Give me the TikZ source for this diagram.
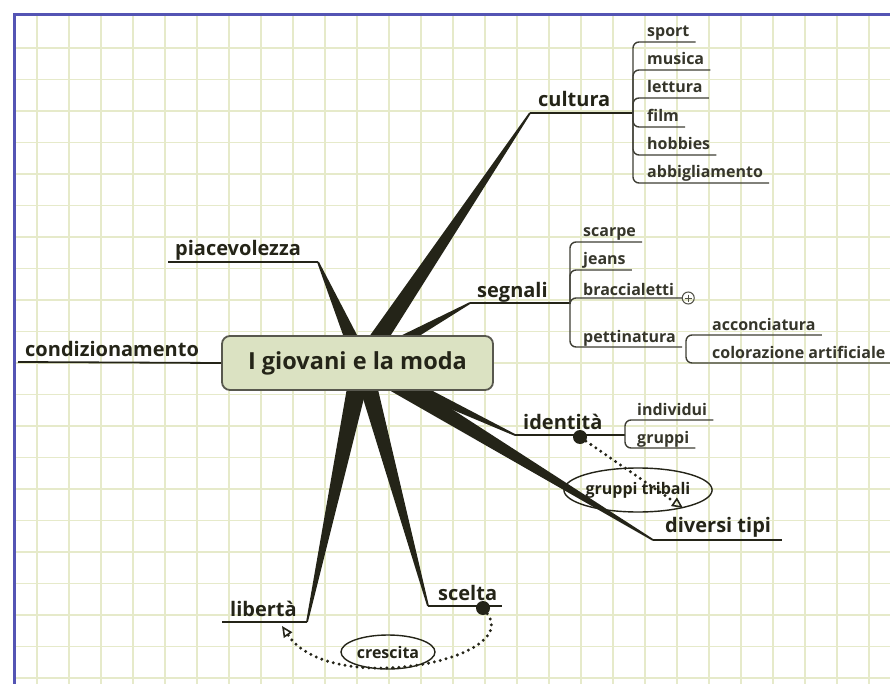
\documentclass[tikz,border=0pt]{standalone}
\usepackage{fontspec}
\setmainfont{Open Sans}
\usetikzlibrary{calc,arrows.meta,shapes.geometric}
\definecolor{gridc}{RGB}{230,234,202}
\definecolor{framec}{RGB}{84,84,180}
\definecolor{ink}{RGB}{36,36,24}
\definecolor{hubfill}{RGB}{219,226,194}
\definecolor{hubline}{RGB}{88,88,78}
\pgfdeclarelayer{paper}
\pgfdeclarelayer{branches}
\pgfsetlayers{paper,branches,main}
% tapered branch from a node centre to a tip coordinate: #1 from, #2 to, #3 half width at the root
\newcommand\branchwedge[3]{%
  \fill[ink] ($(#1)!#3!90:(#2)$) -- ($(#2)!0.9pt!-90:(#1)$) -- ($(#2)!0.9pt!90:(#1)$) -- ($(#1)!#3!-90:(#2)$) -- cycle;}
\begin{document}
\begin{tikzpicture}[x=1pt,y=-1pt,
  mainlabel/.style={font=\fontsize{20}{22}\selectfont\bfseries, text=ink, inner sep=0pt, anchor=base west},
  sublabel/.style={font=\fontsize{16}{18}\selectfont\bfseries, text=ink!92, inner sep=0pt, anchor=base west},
  hub/.style={draw=hubline, line width=1.8pt, fill=hubfill, rounded corners=8pt,
    minimum width=271pt, minimum height=54pt, inner sep=0pt,
    font=\fontsize{23.5}{26}\selectfont\bfseries, text=ink},
  stem/.style={draw=ink, line width=1.8pt},
  twig/.style={draw=ink!88, line width=1.4pt, rounded corners=6pt},
  bubble/.style={ellipse, draw=ink, line width=1.4pt, inner sep=0pt,
    font=\fontsize{16}{18}\selectfont\bfseries, text=ink},
  dotmark/.style={circle, fill=ink, inner sep=0pt, minimum size=14pt},
  expander/.style={circle, draw=ink!80, line width=1pt, inner sep=0pt, minimum size=12pt},
  relation/.style={draw=ink, line width=3.3pt, line cap=round, dash pattern=on 0pt off 6pt},
  relarrow/.style={-{Triangle[open, length=11pt, width=10pt, line width=1.6pt]}}
]
\useasboundingbox (0,0) rectangle (890,684);

% squared paper and blue frame
\begin{pgfonlayer}{paper}
  \fill[white] (0,0) rectangle (890,684);
  \foreach \gx in {0,...,26}
    \draw[gridc, line width=1.5pt] ({37+32*\gx},15) -- ({37+32*\gx},684);
  \foreach \gy in {0,...,20}
    \draw[gridc, line width=1.5pt] (14,{48+31.5*\gy}) -- (890,{48+31.5*\gy});
  \draw[framec, line width=3pt] (14,684) -- (14,15) -- (890,15);
\end{pgfonlayer}

% central topic
\node[hub] (hub) at (357.5,363) {I giovani e la moda};
\coordinate (root) at (362,363);

% branch tips and underline ends
\coordinate (cultT) at (530,113);  \coordinate (cultE) at (633,113);
\coordinate (segT)  at (470,303);  \coordinate (segE)  at (570,303);
\coordinate (piaT)  at (318,262);  \coordinate (piaE)  at (168,262);
\coordinate (condE) at (18,362);
\coordinate (idT)   at (515,435);  \coordinate (idE)   at (625,435);
\coordinate (divT)  at (653,540);  \coordinate (divE)  at (782,540);
\coordinate (libT)  at (307,622);  \coordinate (libE)  at (222,622);
\coordinate (sceT)  at (428,606);  \coordinate (sceE)  at (502,606);

\begin{pgfonlayer}{branches}
  \branchwedge{root}{cultT}{9.5pt}
  \branchwedge{root}{segT}{7.5pt}
  \branchwedge{root}{piaT}{8.5pt}
  \branchwedge{root}{idT}{8pt}
  \branchwedge{root}{divT}{10pt}
  \branchwedge{root}{libT}{10.5pt}
  \branchwedge{root}{sceT}{9.5pt}
\end{pgfonlayer}

% main topics
\node[mainlabel] (cultura) at (538,107) {cultura};
\draw[stem] (cultT) -- (cultE);
\node[mainlabel] (segnali) at (477,297) {segnali};
\draw[stem] (segT) -- (segE);
\node[mainlabel] (piace) at (175,256) {piacevolezza};
\draw[stem] (piaE) -- (piaT);
\node[mainlabel] (condiz) at (25,356) {condizionamento};
\draw[stem] (condE) -- (hub.west);
\node[mainlabel] (ident) at (523,429) {identità};
\draw[stem] (idT) -- (idE);
\node[mainlabel] (diversi) at (665,532) {diversi tipi};
\draw[stem] (divT) -- (divE);
\node[mainlabel] (liberta) at (230,616) {libertà};
\draw[stem] (libE) -- (libT);
\node[mainlabel] (scelta) at (438,600) {scelta};
\draw[stem] (sceT) -- (sceE);

% cultura subtopics
\node[sublabel] (sport)   at (647,37)  {sport};
\node[sublabel] (musica)  at (647,65)  {musica};
\node[sublabel] (lettura) at (647,93)  {lettura};
\node[sublabel] (film)    at (647,122) {film};
\node[sublabel] (hobbies) at (647,150) {hobbies};
\node[sublabel] (abbigl)  at (647,178) {abbigliamento};
\foreach \leaf in {sport,musica,lettura,film,hobbies,abbigl}
  \draw[twig] (cultE) |- ($(\leaf.base east)+(6,5)$);

% segnali subtopics
\node[sublabel] (scarpe)  at (583,237) {scarpe};
\node[sublabel] (jeans)   at (583,265) {jeans};
\node[sublabel] (bracc)   at (583,295) {braccialetti};
\node[sublabel] (pettin)  at (583,342) {pettinatura};
\foreach \leaf in {scarpe,jeans,pettin}
  \draw[twig] (segE) |- ($(\leaf.base east)+(6,5)$);
\node[expander] (plus) at ($(bracc.base east)+(14,3)$) {};
\draw[ink!80, line width=0.9pt] ($(plus.center)+(-3.5,0)$) -- ($(plus.center)+(3.5,0)$)
  ($(plus.center)+(0,-3.5)$) -- ($(plus.center)+(0,3.5)$);
\draw[twig] (segE) |- (plus.west);

% pettinatura subtopics
\coordinate (pettE) at ($(pettin.base east)+(10,5)$);
\node[sublabel] (accon)  at (712,330) {acconciatura};
\node[sublabel] (colore) at (712,358) {colorazione artificiale};
\foreach \leaf in {accon,colore}
  \draw[twig] (pettE) |- ($(\leaf.base east)+(6,5)$);

% identita subtopics
\node[sublabel] (indiv)  at (637,415) {individui};
\node[sublabel] (gruppi) at (637,443) {gruppi};
\foreach \leaf in {indiv,gruppi}
  \draw[twig] (idE) |- ($(\leaf.base east)+(6,5)$);

% relationships
\node[dotmark] (iddot) at (580,437) {};
\node[bubble, minimum width=146pt, minimum height=44pt] (tribali) at (638,490) {gruppi tribali};
\coordinate (tribEnd) at (683,508);
\draw[relation, relarrow] (iddot) -- (tribEnd);

\node[dotmark] (scdot) at (483,608) {};
\node[bubble, minimum width=94pt, minimum height=34pt] (crescita) at (388,652) {crescita};
\coordinate (libArr) at (282,626);
\draw[relation, relarrow] (scdot) .. controls (522,660) and (330,698) .. (libArr);
\end{tikzpicture}
\end{document}
